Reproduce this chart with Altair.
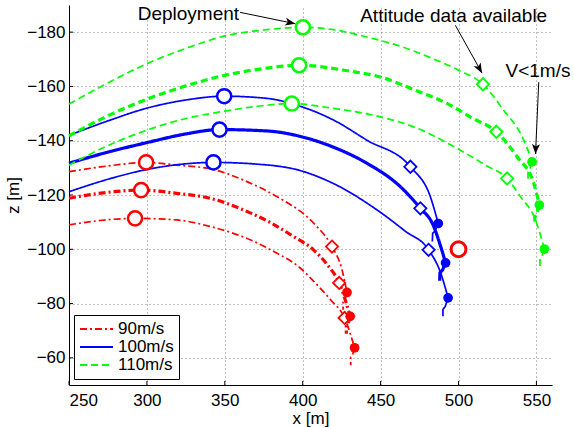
import altair as alt
import pandas as pd

FONT = "Liberation Sans"
speeds = ["90m/s", "100m/s", "110m/s"]
speed_colors = ["#ff0000", "#0000ff", "#00ff00"]

# ---- trajectories (x [m], z [m]) ----
r1_x = [250, 275, 299.5, 319.2, 342.7, 362, 383.4, 402.7, 409.1, 418.8, 425.2, 428.4]
r1_z = [-128.6, -130.7, -132.0, -131.0, -129.4, -125.5, -119.4, -112.0, -108.4, -101.0, -92.5, -84.1]
r1_tail_x = [428.4, 427.0, 425.9, 425.9]
r1_tail_z = [-84.1, -81.4, -80.5, -77.7]

r2_x = [250, 272, 296.3, 319.2, 340.6, 362, 380, 394.1, 406.9, 415.5, 423.4, 430.5]
r2_z = [-118.8, -120.8, -121.8, -120.6, -118.8, -114.5, -109.6, -104.7, -99.8, -94.5, -87.6, -75.3]
r2_tail_x = [430.5, 429.1, 428.0, 428.0]
r2_tail_z = [-75.3, -72.6, -71.7, -68.9]

r3_x = [250, 270, 292.4, 319.2, 340.6, 366.3, 382, 398.4, 406.9, 418, 426.9, 433.3]
r3_z = [-109.0, -110.6, -111.4, -110.8, -108.4, -103.5, -99.0, -93.1, -88.3, -81.3, -74.7, -63.7]
r3_tail_x = [433.3, 431.9, 430.8, 430.8]
r3_tail_z = [-63.7, -61.0, -60.1, -57.3]

b1_x = [250, 275, 300, 325, 349.6, 377, 398.4, 419.8, 441.2, 469.1, 481.9, 487.0]
b1_z = [-142.0, -147.3, -152.0, -155.0, -156.4, -155.6, -152.7, -147.6, -140.2, -130.4, -119.4, -109.5]
b1_tail_x = [487.0, 485.0, 483.4, 483.2]
b1_tail_z = [-109.5, -106.8, -105.9, -102.9]

b2_x = [250, 275, 300, 325, 346.6, 377, 398.4, 419.8, 441.2, 462.6, 475.5, 483.5, 488.3, 491.7]
b2_z = [-131.7, -135.8, -139.3, -142.5, -144.1, -143.6, -141.6, -137.6, -131.7, -123.1, -115.1, -109.2, -101.5, -95.0]
b2_tail_x = [491.7, 489.7, 488.1, 487.9]
b2_tail_z = [-95.0, -92.3, -91.4, -88.4]

b3_x = [250, 275, 300, 320, 342.7, 370, 398.4, 419.8, 447.7, 466, 480.8, 488.6, 493.3]
b3_z = [-121.2, -125.8, -129.4, -131.2, -132.0, -131.4, -129.0, -124.2, -114.5, -106.6, -99.8, -91.2, -82.1]
b3_tail_x = [493.3, 491.5, 490.0, 490.0]
b3_tail_z = [-82.1, -79.0, -77.8, -75.3]

g1_x = [250, 275, 300, 325, 350, 377, 400.1, 419.8, 441.2, 462.6, 481.9, 500, 515.7, 529, 539.7, 546.1, 547.2]
g1_z = [-153.5, -161.3, -168.4, -174.0, -178.6, -180.9, -181.8, -180.9, -178.2, -174.8, -170.6, -166.0, -160.8, -151.2, -142.7, -134.1, -132.2]
g1_tail_x = [547.2, 545.8, 544.6, 544.6]
g1_tail_z = [-132.2, -129.6, -128.8, -126.0]

g2_x = [250, 275, 300, 325, 350, 375, 397.7, 430.5, 449.8, 471, 492.6, 509, 524.3, 537.6, 548.3, 551.9]
g2_z = [-141.8, -149.2, -155.3, -160.2, -164.1, -166.6, -167.8, -165.6, -163.5, -158.9, -153.7, -148.3, -143.3, -134.1, -124.3, -116.3]
g2_tail_x = [551.9, 550.4, 549.0, 549.0]
g2_tail_z = [-116.3, -113.6, -112.7, -110.0]

g3_x = [250, 275, 300, 325, 350, 377, 393, 419.8, 449.8, 471.2, 501.2, 518, 531.2, 539.7, 549.4, 555.1]
g3_z = [-131.0, -138.2, -143.9, -148.2, -150.9, -153.1, -153.7, -151.9, -148.8, -145.1, -136.5, -130.8, -126.1, -119.4, -110.8, -100.1]
g3_tail_x = [555.1, 553.6, 552.3, 552.3]
g3_tail_z = [-100.1, -97.5, -96.6, -93.8]

# ---- event markers ----
deploy_x = [299.5, 296.3, 292.4, 349.6, 346.6, 342.7, 400.1, 397.7, 393.0]
deploy_z = [-132.0, -121.8, -111.4, -156.4, -144.1, -132.0, -181.8, -167.8, -153.7]
attitude_x = [418.8, 423.4, 426.9, 469.1, 475.5, 480.8, 515.7, 524.3, 531.2]
attitude_z = [-101.0, -87.6, -74.7, -130.4, -115.1, -99.8, -160.8, -143.3, -126.1]
slow_x = [428.4, 430.5, 433.3, 487.0, 491.7, 493.3, 547.2, 551.9, 555.1]
slow_z = [-84.1, -75.3, -63.7, -109.5, -95.0, -82.1, -132.2, -116.3, -100.1]
marker_speed = ["90m/s"] * 3 + ["100m/s"] * 3 + ["110m/s"] * 3
extra_x = [500.0]
extra_z = [-100.0]

# ---- axis ticks ----
x_ticks = [250, 300, 350, 400, 450, 500, 550]
z_ticks = [-180, -160, -140, -120, -100, -80, -60]

# ---- annotations ----
note_text = ["Deployment", "Attitude data available", "V<1m/s"]
note_x = [326.6, 496.9, 551.0]
note_z = [-186.6, -186.0, -165.8]
arrow_x = [359.8, 498.0, 551.5]
arrow_z = [-187.3, -182.5, -161.6]
arrow_x2 = [395.2, 515.1, 549.4]
arrow_z2 = [-183.1, -164.9, -135.1]
arrow_ang = [11.9, 60.8, 92.6]

curves = [
    ("R1", "90m/s", "thin", r1_x, r1_z, r1_tail_x, r1_tail_z),
    ("R2", "90m/s", "thick", r2_x, r2_z, r2_tail_x, r2_tail_z),
    ("R3", "90m/s", "thin", r3_x, r3_z, r3_tail_x, r3_tail_z),
    ("B1", "100m/s", "thin", b1_x, b1_z, b1_tail_x, b1_tail_z),
    ("B2", "100m/s", "thick", b2_x, b2_z, b2_tail_x, b2_tail_z),
    ("B3", "100m/s", "thin", b3_x, b3_z, b3_tail_x, b3_tail_z),
    ("G1", "110m/s", "thin", g1_x, g1_z, g1_tail_x, g1_tail_z),
    ("G2", "110m/s", "thick", g2_x, g2_z, g2_tail_x, g2_tail_z),
    ("G3", "110m/s", "thin", g3_x, g3_z, g3_tail_x, g3_tail_z),
]
rows = []
for cid, sp, var, xs, zs, txs, tzs in curves:
    for i, (x, z) in enumerate(zip(xs, zs)):
        rows.append(dict(curve=cid, speed=sp, variant=var, x=x, z=z, i=i, part="main"))
    for i, (x, z) in enumerate(zip(txs, tzs)):
        rows.append(dict(curve=cid + "t", speed=sp, variant=var, x=x, z=z, i=i, part="tail"))
lines_df = pd.DataFrame(rows)

cmap = dict(zip(speeds, speed_colors))
deploy_df = pd.DataFrame(dict(x=deploy_x, z=deploy_z, col=[cmap[s] for s in marker_speed]))
att_df = pd.DataFrame(dict(x=attitude_x, z=attitude_z, col=[cmap[s] for s in marker_speed]))
slow_df = pd.DataFrame(dict(x=slow_x, z=slow_z, col=[cmap[s] for s in marker_speed]))
extra_df = pd.DataFrame(dict(x=extra_x, z=extra_z))
note_df = pd.DataFrame(dict(t=note_text, x=note_x, z=note_z))
arrow_df = pd.DataFrame(dict(x=arrow_x, z=arrow_z, x2=arrow_x2, z2=arrow_z2, ang=arrow_ang))
xt_df = pd.DataFrame(dict(x=x_ticks))
zt_df = pd.DataFrame(dict(z=z_ticks))

xs_ = alt.Scale(domain=[250, 560], nice=False, zero=False)
ys_ = alt.Scale(domain=[-190, -50], reverse=True, nice=False, zero=False)
X = alt.X("x:Q", scale=xs_, axis=alt.Axis(values=x_ticks, title="x [m]", labelPadding=7,
                                         titleY=38, titleBaseline="alphabetic"))
Y = alt.Y("z:Q", scale=ys_, axis=alt.Axis(values=z_ticks, title="z [m]", labelPadding=4,
                                         titleX=-51, titleY=190, titleBaseline="alphabetic",
                                         titleAlign="center", titleAngle=270))

leg = alt.Legend(title=None, orient="none", legendX=5, legendY=310, symbolType="stroke",
                 symbolSize=1089, symbolStrokeWidth=2, labelFont=FONT, labelFontSize=17,
                 labelColor="black", strokeColor="black", fillColor="white", padding=5,
                 rowPadding=0, clipHeight=18, labelOffset=4)
color = alt.Color("speed:N", scale=alt.Scale(domain=speeds, range=speed_colors), legend=leg)
dash = alt.StrokeDash("speed:N", scale=alt.Scale(domain=speeds, range=[[7, 3, 2, 3], [1, 0], [7, 4]]), legend=leg)
width = alt.StrokeWidth("variant:N", scale=alt.Scale(domain=["thin", "thick"], range=[1.7, 3.2]), legend=None)

base = alt.Chart(lines_df)
main = base.transform_filter(alt.datum.part == "main").mark_line(interpolate="monotone").encode(
    x=X, y=Y, color=color, strokeDash=dash, strokeWidth=width, detail="curve:N", order="i:Q")
tail = base.transform_filter(alt.datum.part == "tail").mark_line().encode(
    x="x:Q", y="z:Q", color=color, strokeDash=dash, strokeWidth=width, detail="curve:N", order="i:Q")

xticks = alt.Chart(xt_df).mark_tick(orient="vertical", size=4, thickness=1, color="black", opacity=1).encode(
    x="x:Q", y=alt.value(378))
zticks = alt.Chart(zt_df).mark_tick(orient="horizontal", size=4, thickness=1, color="black", opacity=1).encode(
    y="z:Q", x=alt.value(2))

circ = alt.Chart(deploy_df).mark_point(shape="circle", size=200, strokeWidth=2.5, fill="white",
                                       fillOpacity=1, opacity=1).encode(
    x="x:Q", y="z:Q", stroke=alt.Stroke("col:N", scale=None))
diam = alt.Chart(att_df).mark_point(shape="diamond", size=150, strokeWidth=1.8, fill="white",
                                    fillOpacity=1, opacity=1).encode(
    x="x:Q", y="z:Q", stroke=alt.Stroke("col:N", scale=None))
dots = alt.Chart(slow_df).mark_point(shape="circle", size=95, filled=True, opacity=1).encode(
    x="x:Q", y="z:Q", fill=alt.Fill("col:N", scale=None))
extra = alt.Chart(extra_df).mark_point(shape="circle", size=220, strokeWidth=3, color="#ff0000",
                                       fill="white", fillOpacity=1, opacity=1).encode(x="x:Q", y="z:Q")

arrows = alt.Chart(arrow_df).mark_rule(color="black", strokeWidth=1).encode(
    x="x:Q", y="z:Q", x2="x2:Q", y2="z2:Q")
heads = alt.Chart(arrow_df).mark_point(shape="M0,0L-2,-0.8L-1.5,0L-2,0.8Z", size=100, filled=True,
                                       color="black", opacity=1).encode(
    x="x2:Q", y="z2:Q", angle=alt.Angle("ang:Q", scale=None))
notes = alt.Chart(note_df).mark_text(font=FONT, fontSize=19, color="black", align="center",
                                     baseline="middle").encode(x="x:Q", y="z:Q", text="t:N")

chart = alt.layer(main, tail, xticks, zticks, circ, diam, dots, extra, arrows, heads, notes).properties(
    width=483, height=380,
    padding={"left": 69, "top": 5, "right": 22, "bottom": 42},
    autosize=alt.AutoSizeParams(type="none"),
    background="white",
).configure_view(stroke=None).configure_axis(
    labelFont=FONT, titleFont=FONT, labelFontSize=17, titleFontSize=17, titleFontWeight="normal",
    labelColor="black", titleColor="black", domainColor="black", domainWidth=1,
    ticks=False, tickSize=0, grid=True, gridColor="#7f7f7f", gridDash=[1, 3], gridWidth=1, gridOpacity=1,
).configure_legend(strokeWidth=1)

chart.save("out.html", embed_options={"renderer": "svg", "actions": False})
